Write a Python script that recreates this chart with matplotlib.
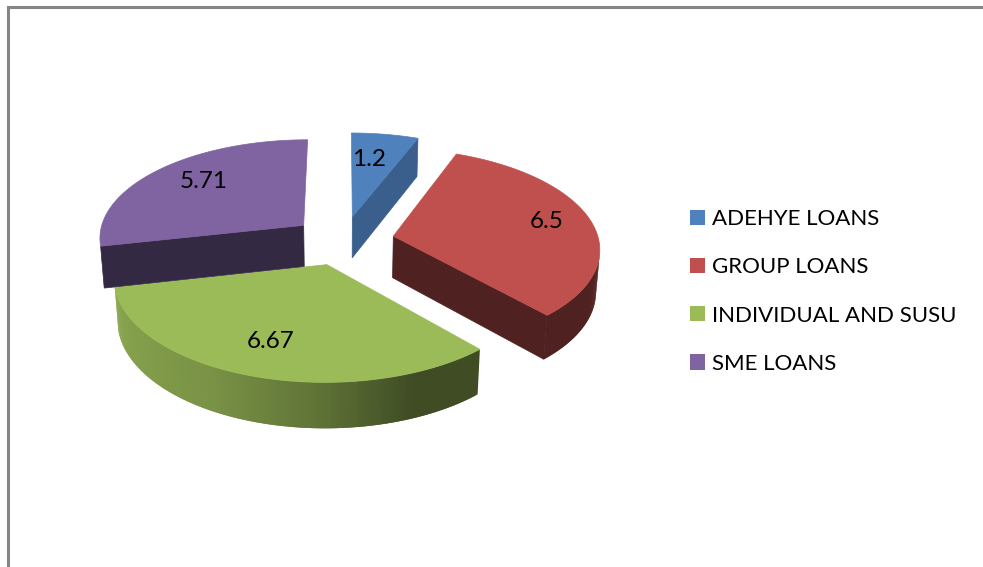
import numpy as np
import matplotlib
matplotlib.use('Agg')
import matplotlib.pyplot as plt
from matplotlib.patches import Patch

categories = ['ADEHYE LOANS', 'GROUP LOANS', 'INDIVIDUAL AND SUSU', 'SME LOANS']
values = [1.2, 6.5, 6.67, 5.71]
top_colors = ['#4f81bd', '#c0504d', '#9bbb59', '#8064a2']
# how dark the flat cut faces are, relative to the top colour
cut_shade = [0.74, 0.41, 0.41, 0.41]
draw_order = [0, 1, 2, 3]

plt.rcParams['font.family'] = ['Lato', 'DejaVu Sans']

# pie geometry, in pixels of the picture
cx, cy = 343, 240.5
rx, ry = 205.5, 98.5
explode = 0.25
persp = 0.1135
depth = 42.3
depth_persp = 0.015


def project(X, Y, z=0.0):
    w = 1 + persp * Y + depth_persp * z
    return cx + rx * X / w, cy + (-ry * Y + depth * z) / w


def shade(color, f):
    rgb = np.array(matplotlib.colors.to_rgb(color))
    return tuple(rgb * f)


def side_factor(theta):
    # light comes from the left, the outer wall goes dark towards the right
    return np.interp(theta, [90, 158, 183, 208, 260], [0.41, 0.41, 0.63, 0.78, 0.9])


def area(xs, ys):
    return 0.5 * np.sum(np.array(xs) * np.roll(ys, -1) - np.roll(xs, -1) * np.array(ys))


fig = plt.figure(figsize=(9.83, 5.67), dpi=100)
ax = fig.add_axes([0, 0, 1, 1])
ax.set_xlim(0, 983)
ax.set_ylim(567, 0)
ax.axis('off')

# outer frame of the chart area
ax.plot([8, 8, 983], [567, 7, 7], color='#868686', lw=2.2, solid_joinstyle='miter')

total = sum(values)
edges = np.concatenate([[0], np.cumsum(values)]) / total * 360
slices = []
for i in range(len(values)):
    a0, a1 = edges[i], edges[i + 1]
    mid = np.radians((a0 + a1) / 2)
    slices.append((a0, a1, explode * np.sin(mid), explode * np.cos(mid)))

for i in draw_order:
    a0, a1, ox, oy = slices[i]
    theta = np.linspace(a0, a1, 160)
    X = ox + np.sin(np.radians(theta))
    Y = oy + np.cos(np.radians(theta))
    color = top_colors[i]
    dark = shade(color, cut_shade[i])

    # outer wall, strip by strip; strips overlap so no seams show
    for j in range(len(theta) - 1):
        p = project(X[j:j + 3], Y[j:j + 3])
        q = project(X[j:j + 3], Y[j:j + 3], 1)
        xs = np.r_[p[0], q[0][::-1]]
        ys = np.r_[p[1], q[1][::-1]]
        if area(xs, ys) < 0:
            ax.fill(xs, ys, facecolor=shade(color, side_factor(theta[j])), edgecolor='none', lw=0)

    # flat cut faces, only those turned to the viewer (skip near edge-on slivers)
    for k, sign in [(0, 1), (-1, -1)]:
        xs = [project(ox, oy)[0], project(X[k], Y[k])[0], project(X[k], Y[k], 1)[0], project(ox, oy, 1)[0]]
        ys = [project(ox, oy)[1], project(X[k], Y[k])[1], project(X[k], Y[k], 1)[1], project(ox, oy, 1)[1]]
        if sign * area(xs, ys) < -300:
            ax.fill(xs, ys, color=dark, lw=0.5)

    # top
    tx, ty = project(np.r_[ox, X], np.r_[oy, Y])
    ax.fill(tx, ty, color=color, lw=0.5)

# data labels
label_pos = [(369, 159), (547, 222), (271, 342), (204, 182)]
for v, (lx, ly) in zip(values, label_pos):
    ax.text(lx, ly, str(v), fontsize=17.5, color='black', ha='center', va='center')

handles = [Patch(facecolor=c, edgecolor='none') for c in top_colors]
ax.legend(handles, categories, loc='center left', bbox_to_anchor=(690, 291.5), bbox_transform=ax.transData,
          frameon=False, fontsize=16, handlelength=0.68, handleheight=0.68, handletextpad=0.32,
          labelspacing=1.27, borderpad=0, borderaxespad=0, labelcolor='black')

fig.savefig('out.png', dpi=100)
